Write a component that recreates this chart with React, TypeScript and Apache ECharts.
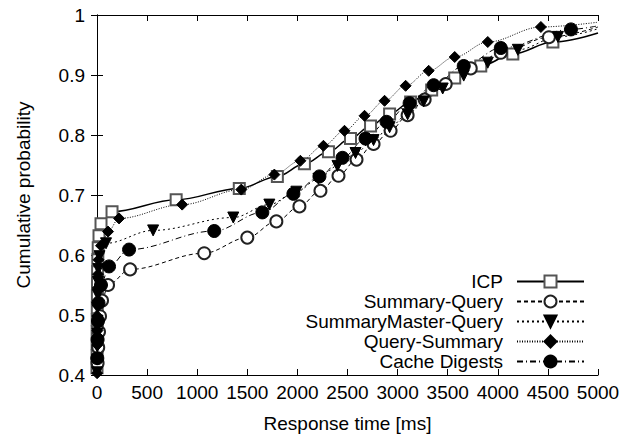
import React, { useEffect, useRef } from "react";
import * as echarts from "echarts";

const seriesNames = ["ICP", "Summary-Query", "SummaryMaster-Query", "Query-Summary", "Cache Digests"];

const icpX = [0, 1, 1.5, 2, 2.5, 3, 4, 5, 6, 8, 12, 20, 40, 150, 790, 1420, 1800, 2070, 2310, 2530, 2730, 2920, 3130, 3340, 3570, 3830, 4150, 4550, 5000];
const icpY = [0.412, 0.432, 0.452, 0.472, 0.492, 0.512, 0.532, 0.552, 0.572, 0.592, 0.612, 0.632, 0.652, 0.672, 0.692, 0.711, 0.731, 0.752, 0.772, 0.794, 0.815, 0.835, 0.855, 0.875, 0.895, 0.915, 0.935, 0.955, 0.970];

const sqX = [6, 12, 20, 30, 50, 110, 330, 1070, 1500, 1790, 2020, 2230, 2410, 2590, 2760, 2930, 3100, 3270, 3480, 3730, 4030, 4510, 5000];
const sqY = [0.42, 0.446, 0.472, 0.498, 0.524, 0.55, 0.576, 0.603, 0.629, 0.656, 0.681, 0.707, 0.732, 0.759, 0.785, 0.807, 0.833, 0.859, 0.885, 0.911, 0.937, 0.963, 0.980];

const smqX = [1, 2, 3, 4, 5, 6, 8, 10, 14, 25, 90, 560, 1360, 1720, 1990, 2210, 2400, 2580, 2760, 2920, 3100, 3260, 3450, 3660, 3900, 4200, 4600, 5000];
const smqY = [0.4045, 0.426, 0.4475, 0.469, 0.4905, 0.512, 0.5335, 0.555, 0.5765, 0.598, 0.6195, 0.641, 0.6625, 0.684, 0.7055, 0.727, 0.7485, 0.77, 0.7915, 0.813, 0.8345, 0.856, 0.8775, 0.899, 0.9205, 0.942, 0.9635, 0.977];

const qsX = [1, 2, 3, 4, 5, 6, 8, 10, 15, 40, 110, 220, 850, 1440, 1770, 2030, 2260, 2470, 2670, 2870, 3080, 3310, 3570, 3900, 4430, 5000];
const qsY = [0.403, 0.427, 0.45, 0.474, 0.498, 0.521, 0.545, 0.568, 0.592, 0.6155, 0.639, 0.661, 0.684, 0.709, 0.734, 0.757, 0.782, 0.807, 0.832, 0.857, 0.882, 0.907, 0.93, 0.955, 0.98, 0.988];

const cdX = [3, 6, 10, 15, 40, 120, 320, 1170, 1650, 1960, 2220, 2450, 2680, 2890, 3120, 3360, 3660, 4030, 4730, 5000];
const cdY = [0.428, 0.459, 0.49, 0.52, 0.55, 0.581, 0.609, 0.64, 0.671, 0.702, 0.731, 0.762, 0.794, 0.822, 0.853, 0.883, 0.915, 0.945, 0.976, 0.982];

const xTicks = [0, 500, 1000, 1500, 2000, 2500, 3000, 3500, 4000, 4500, 5000];
const yTicks = [0.4, 0.5, 0.6, 0.7, 0.8, 0.9, 1];

const FONT = "'Liberation Sans', Arial, Helvetica, sans-serif";
const FS = 19;

function zip(xs: number[], ys: number[]) {
  return xs.map((x, i) => {
    const item: any = { value: [x, ys[i]] };
    if (i === xs.length - 1) item.symbol = "none";
    return item;
  });
}

export default function App() {
  const ref = useRef<HTMLDivElement>(null);
  useEffect(() => {
    if (!ref.current) return;
    const chart = echarts.init(ref.current, null, { renderer: "svg" });
    const axisLine = { show: true, lineStyle: { color: "#000", width: 1 } };
    const tick = { show: true, inside: true, length: 6, lineStyle: { color: "#000", width: 1 } };
    const mk = (
      name: string,
      xs: number[],
      ys: number[],
      symbol: string,
      size: number,
      color: string,
      lineType: any,
      lw: number,
      rotate = 0
    ) => ({
      type: "line",
      name,
      data: zip(xs, ys),
      symbol,
      symbolSize: size,
      symbolRotate: rotate,
      showAllSymbol: true,
      smooth: 0.35,
      smoothMonotone: "x",
      lineStyle: { color: "#000", width: lw, type: lineType },
      itemStyle: { color, borderColor: color, borderWidth: 1 },
      emphasis: { disabled: true },
    });
    chart.setOption({
      animation: false,
      backgroundColor: "#fff",
      textStyle: { fontFamily: FONT },
      grid: { left: 97, right: 27, top: 15, bottom: 61 },
      legend: {
        orient: "vertical",
        right: 35,
        top: 267,
        align: "right",
        itemWidth: 67,
        itemHeight: 15,
        itemGap: 1,
        data: seriesNames,
        textStyle: { fontSize: FS, color: "#000", fontFamily: FONT, padding: [0, 9, 0, 0] },
      },
      xAxis: [
        {
          type: "value",
          min: 0,
          max: 5000,
          interval: 500,
          position: "bottom",
          name: "Response time [ms]",
          nameLocation: "middle",
          nameGap: 39,
          nameTextStyle: { fontSize: FS, color: "#000", fontFamily: FONT },
          axisLine,
          axisTick: tick,
          axisLabel: { fontSize: FS, color: "#000", margin: 8, fontFamily: FONT, formatter: (v: number) => String(v) },
          splitLine: { show: false },
        },
        {
          type: "value",
          min: 0,
          max: 5000,
          interval: 500,
          position: "top",
          axisLine,
          axisTick: tick,
          axisLabel: { show: false },
          splitLine: { show: false },
        },
      ],
      yAxis: [
        {
          type: "value",
          min: 0.4,
          max: 1,
          interval: 0.1,
          position: "left",
          name: "Cumulative probability",
          nameLocation: "middle",
          nameGap: 64,
          nameTextStyle: { fontSize: FS, color: "#000", fontFamily: FONT },
          axisLine,
          axisTick: tick,
          axisLabel: {
            fontSize: FS,
            color: "#000",
            margin: 12,
            fontFamily: FONT,
            formatter: (v: number) => String(parseFloat(v.toFixed(1))),
          },
          splitLine: { show: false },
        },
        {
          type: "value",
          min: 0.4,
          max: 1,
          interval: 0.1,
          position: "right",
          axisLine,
          axisTick: tick,
          axisLabel: { show: false },
          splitLine: { show: false },
        },
      ],
      series: [
        mk(seriesNames[0], icpX, icpY, "emptyRect", 11, "#555", "solid", 1.5),
        mk(seriesNames[1], sqX, sqY, "emptyCircle", 12, "#222", [4, 3], 1),
        mk(seriesNames[2], smqX, smqY, "triangle", 11, "#000", [2, 3], 1, 180),
        mk(seriesNames[3], qsX, qsY, "diamond", 11, "#000", [1, 1.5], 1),
        mk(seriesNames[4], cdX, cdY, "circle", 13, "#000", [6, 3, 1, 3], 1),
      ],
    });
    return () => chart.dispose();
  }, []);
  return (
    <div
      ref={ref}
      style={{ position: "fixed", left: 0, top: 0, width: 625, height: 438, background: "#fff" }}
    />
  );
}
